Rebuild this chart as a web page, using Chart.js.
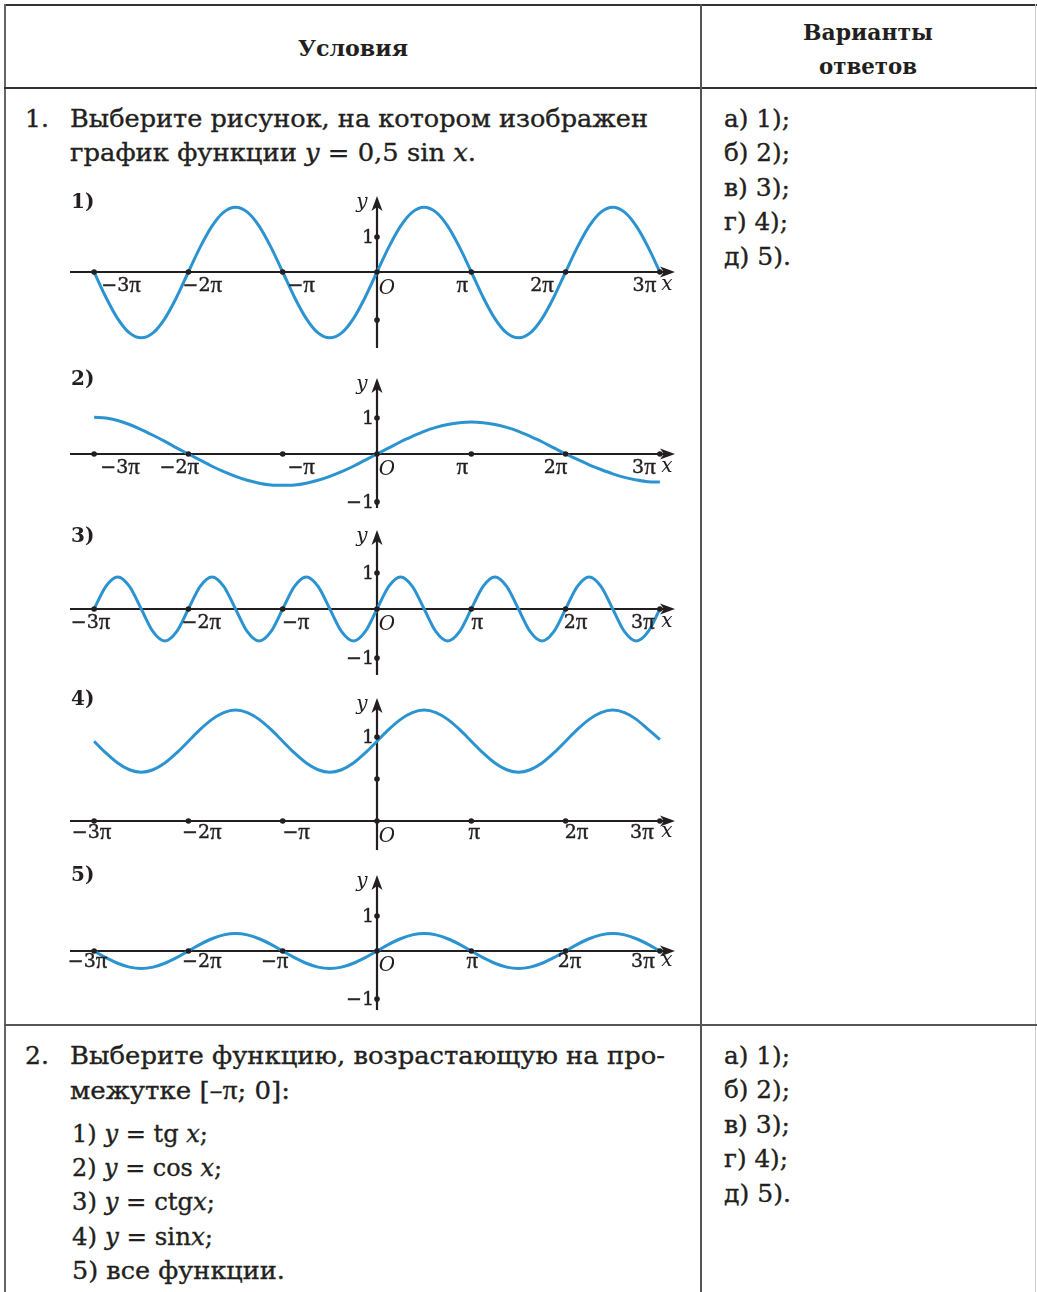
<!DOCTYPE html>
<html><head><meta charset="utf-8">
<script src="https://cdn.jsdelivr.net/npm/chart.js@4.4.1/dist/chart.umd.min.js"></script>
<style>
html,body{margin:0;padding:0;background:#fff;}
body{width:1037px;height:1292px;position:relative;overflow:hidden;font-family:"DejaVu Serif",serif;color:#231f20;}
.t{position:absolute;white-space:nowrap;font-size:25px;line-height:25px;transform-origin:0 0;-webkit-text-stroke:0.35px #231f20;}
.b{font-weight:bold;font-size:22px;line-height:22px;-webkit-text-stroke:0;}
i{font-style:italic;}
.pi{font-family:"Liberation Serif",serif;font-size:28px;}
.ln{position:absolute;}
canvas{position:absolute;left:60px;}
</style></head><body>
<div class="ln" style="left:4px;top:4px;width:1033px;height:2px;background:#333"></div>
<div class="ln" style="left:4px;top:4px;width:2px;height:1290px;background:#666"></div>
<div class="ln" style="left:1035px;top:4px;width:1px;height:1290px;background:#ccc"></div>
<div class="ln" style="left:4px;top:87px;width:1033px;height:2px;background:#333"></div>
<div class="ln" style="left:4px;top:1024px;width:1033px;height:2px;background:#555"></div>
<div class="ln" style="left:700px;top:4px;width:2px;height:1290px;background:#555"></div>

<div class="t b" data-cx="353" data-base="56" data-w="110">Условия</div>
<div class="t b" data-cx="868" data-base="40" data-w="130">Варианты</div>
<div class="t b" data-cx="868" data-base="74" data-w="98">ответов</div>

<div class="t" data-x="25" data-base="127">1.</div>
<div class="t" data-x="70" data-base="127" data-w="578">Выберите рисунок, на котором изображен</div>
<div class="t" data-x="70" data-base="161" data-w="406">график функции <i>y</i> = 0,5 sin <i>x</i>.</div>
<div class="t" data-x="724" data-base="127" data-w="66">а) 1);</div>
<div class="t" data-x="724" data-base="161" data-w="66">б) 2);</div>
<div class="t" data-x="724" data-base="196" data-w="66">в) 3);</div>
<div class="t" data-x="724" data-base="230" data-w="64">г) 4);</div>
<div class="t" data-x="724" data-base="265" data-w="67">д) 5).</div>

<div class="t" data-x="25" data-base="1064">2.</div>
<div class="t" data-x="70" data-base="1064" data-w="595">Выберите функцию, возрастающую на про-</div>
<div class="t" data-x="70" data-base="1098" data-w="220">межутке [–<span class="pi">π</span>; 0]:</div>
<div class="t" data-x="72" data-base="1142" data-w="136">1) <i>y</i> = tg <i>x</i>;</div>
<div class="t" data-x="72" data-base="1176" data-w="150">2) <i>y</i> = cos <i>x</i>;</div>
<div class="t" data-x="72" data-base="1210" data-w="143">3) <i>y</i> = ctg<i>x</i>;</div>
<div class="t" data-x="72" data-base="1245" data-w="141">4) <i>y</i> = sin<i>x</i>;</div>
<div class="t" data-x="72" data-base="1279" data-w="213">5) все функции.</div>
<div class="t" data-x="724" data-base="1064" data-w="66">а) 1);</div>
<div class="t" data-x="724" data-base="1098" data-w="66">б) 2);</div>
<div class="t" data-x="724" data-base="1133" data-w="66">в) 3);</div>
<div class="t" data-x="724" data-base="1167" data-w="64">г) 4);</div>
<div class="t" data-x="724" data-base="1202" data-w="67">д) 5).</div>

<canvas id="c1" width="630" height="175" style="top:185px"></canvas>
<canvas id="c2" width="630" height="150" style="top:365px"></canvas>
<canvas id="c3" width="630" height="165" style="top:520px"></canvas>
<canvas id="c4" width="630" height="175" style="top:685px"></canvas>
<canvas id="c5" width="630" height="155" style="top:865px"></canvas>

<script>
// ---- data (x in units of π) ----
const xTicks = [-3, -2, -1, 0, 1, 2, 3];
const xTickLabels = ['−3π', '−2π', '−π', '', 'π', '2π', '3π'];
const xs = [-3,-2.875,-2.75,-2.625,-2.5,-2.375,-2.25,-2.125,-2,-1.875,-1.75,-1.625,-1.5,-1.375,-1.25,-1.125,
 -1,-0.875,-0.75,-0.625,-0.5,-0.375,-0.25,-0.125,0,0.125,0.25,0.375,0.5,0.625,0.75,0.875,
 1,1.125,1.25,1.375,1.5,1.625,1.75,1.875,2,2.125,2.25,2.375,2.5,2.625,2.75,2.875,3];

const ys1 = [0,-0.72,-1.33,-1.74,-1.88,-1.74,-1.33,-0.72, 0,0.71,1.31,1.71,1.85,1.71,1.31,0.71,
 0,-0.72,-1.33,-1.74,-1.88,-1.74,-1.33,-0.72, 0,0.71,1.31,1.71,1.85,1.71,1.31,0.71,
 0,-0.72,-1.33,-1.74,-1.88,-1.74,-1.33,-0.72, 0,0.71,1.31,1.71,1.85,1.71,1.31,0.71, 0];
const ys2 = [1.02,1.00,0.93,0.82,0.68,0.52,0.35,0.17, 0,-0.17,-0.34,-0.49,-0.62,-0.73,-0.81,-0.86,
 -0.87,-0.86,-0.81,-0.73,-0.62,-0.49,-0.34,-0.17, 0,0.17,0.34,0.49,0.63,0.74,0.82,0.87,
 0.89,0.87,0.82,0.74,0.63,0.49,0.34,0.17, 0,-0.15,-0.30,-0.43,-0.55,-0.65,-0.72,-0.77, -0.78];
const ys3 = [0,0.63,0.89,0.63,0,-0.63,-0.89,-0.63, 0,0.63,0.89,0.63,0,-0.63,-0.89,-0.63,
 0,0.63,0.89,0.63,0,-0.63,-0.89,-0.63, 0,0.63,0.89,0.63,0,-0.63,-0.89,-0.63,
 0,0.63,0.89,0.63,0,-0.63,-0.89,-0.63, 0,0.63,0.89,0.63,0,-0.63,-0.89,-0.63, 0];
const ys4 = [0.95,0.81,0.69,0.61,0.58,0.61,0.69,0.81, 0.95,1.09,1.21,1.29,1.32,1.29,1.21,1.09,
 0.95,0.81,0.69,0.61,0.58,0.61,0.69,0.81, 0.95,1.09,1.21,1.29,1.32,1.29,1.21,1.09,
 0.95,0.81,0.69,0.61,0.58,0.61,0.69,0.81, 0.95,1.09,1.21,1.29,1.32,1.29,1.21,1.09, 0.97];
const ys5 = [0,-0.19,-0.35,-0.46,-0.5,-0.46,-0.35,-0.19, 0,0.19,0.35,0.46,0.5,0.46,0.35,0.19,
 0,-0.19,-0.35,-0.46,-0.5,-0.46,-0.35,-0.19, 0,0.19,0.35,0.46,0.5,0.46,0.35,0.19,
 0,-0.19,-0.35,-0.46,-0.5,-0.46,-0.35,-0.19, 0,0.19,0.35,0.46,0.5,0.46,0.35,0.19, 0];

const yTickVals1 = [1, -1.37], yTickLabels1 = ['1', ''];
const yTickVals2 = [1, -1.33], yTickLabels2 = ['1', '−1'];
const yTickVals3 = [1, -1.36], yTickLabels3 = ['1', '−1'];
const yTickVals4 = [1, 0.5],  yTickLabels4 = ['1', ''];
const yTickVals5 = [1, -1.37], yTickLabels5 = ['1', '−1'];
const chartNames = ['1)', '2)', '3)', '4)', '5)'];

// ---- layout ----
const LEFT = 60, W = 630, ZERO_X = 377, PX_PER_PI = 94.3;
const AX = '#231f20', CURVE = '#2b93d0';
const layouts = [
 {id:'c1', top:185, h:175, axisY:272, unit:35, tipY:196, botY:348, ys:ys1, yv:yTickVals1, yl:yTickLabels1, name:chartNames[0], nameY:203,
  dx:[27,14,18.5,0,-9,-23.5,-15.5], dy:14, ody:17},
 {id:'c2', top:365, h:150, axisY:454, unit:36, tipY:378, botY:508, ys:ys2, yv:yTickVals2, yl:yTickLabels2, name:chartNames[1], nameY:380,
  dx:[26,-9,18.5,0,-9,-10,-16], dy:14, ody:16},
 {id:'c3', top:520, h:165, axisY:609, unit:36, tipY:530, botY:675, ys:ys3, yv:yTickVals3, yl:yTickLabels3, name:chartNames[2], nameY:537,
  dx:[-3.5,13,13,0,6,10,-17], dy:14, ody:16},
 {id:'c4', top:685, h:175, axisY:821, unit:84, tipY:698, botY:850, ys:ys4, yv:yTickVals4, yl:yTickLabels4, name:chartNames[3], nameY:700,
  dx:[-2.5,13.5,13.5,0,3,11,-18], dy:12, ody:16},
 {id:'c5', top:865, h:155, axisY:951, unit:35, tipY:875, botY:1010, ys:ys5, yv:yTickVals5, yl:yTickLabels5, name:chartNames[4], nameY:876,
  dx:[-6.5,13.5,-8,0,1,4,-17], dy:11, ody:15}
];

const NUM_FONT = '19px "DejaVu Serif"', PI_FONT = '23px "Liberation Serif"';

function arrow(c, x, y, dir){
  c.beginPath();
  if (dir === 'right'){
    c.moveTo(x, y); c.lineTo(x-15, y-5.5); c.lineTo(x-11, y); c.lineTo(x-15, y+5.5);
  } else {
    c.moveTo(x, y); c.lineTo(x-5.5, y+15); c.lineTo(x, y+11); c.lineTo(x+5.5, y+15);
  }
  c.closePath(); c.fill();
}

// draws a label centered at (cx, cy), π rendered with a rounder serif glyph
function drawLabel(c, text, cx, cy){
  const parts = [];
  for (const ch of text) parts.push({ch: ch, font: ch === 'π' ? PI_FONT : NUM_FONT});
  let total = 0;
  parts.forEach(p => { c.font = p.font; p.w = c.measureText(p.ch).width; total += p.w; });
  let x = cx - total / 2;
  c.textAlign = 'left';
  parts.forEach(p => {
    c.font = p.font;
    c.fillText(p.ch, x, cy + (p.ch === 'π' ? 0 : 0));
    c.strokeText(p.ch, x, cy);
    x += p.w;
  });
}

function makePlugin(L){
  return {
    id: 'axes_' + L.id,
    beforeDatasetsDraw(chart){
      const c = chart.ctx, sx = chart.scales.x, sy = chart.scales.y;
      const ox = sx.getPixelForValue(0), oy = sy.getPixelForValue(0);
      c.save();
      c.strokeStyle = AX; c.fillStyle = AX; c.lineWidth = 2.2;
      c.beginPath(); c.moveTo(70 - LEFT, oy); c.lineTo(675 - LEFT - 10, oy); c.stroke();
      arrow(c, 675 - LEFT, oy, 'right');
      c.beginPath(); c.moveTo(ox, L.botY - L.top); c.lineTo(ox, L.tipY - L.top + 10); c.stroke();
      arrow(c, ox, L.tipY - L.top, 'up');
      c.restore();
    },
    afterDatasetsDraw(chart){
      const c = chart.ctx, sx = chart.scales.x, sy = chart.scales.y;
      const ox = sx.getPixelForValue(0), oy = sy.getPixelForValue(0);
      c.save();
      c.fillStyle = AX; c.strokeStyle = AX; c.lineWidth = 0.4;
      xTicks.forEach(v => { c.beginPath(); c.arc(sx.getPixelForValue(v), oy, 2.8, 0, Math.PI*2); c.fill(); });
      L.yv.forEach(v => { c.beginPath(); c.arc(ox, sy.getPixelForValue(v), 2.8, 0, Math.PI*2); c.fill(); });
      c.textBaseline = 'middle';
      xTicks.forEach((v, i) => {
        if (!xTickLabels[i]) return;
        drawLabel(c, xTickLabels[i], sx.getPixelForValue(v) + L.dx[i], oy + L.dy);
      });
      c.font = NUM_FONT;
      c.textAlign = 'right';
      L.yv.forEach((v, i) => { if (L.yl[i]) { const py = sy.getPixelForValue(v) + 1; c.fillText(L.yl[i], ox - 3, py); c.strokeText(L.yl[i], ox - 3, py); } });
      c.font = 'italic 20px "DejaVu Serif"';
      c.textAlign = 'center';
      c.fillText('O', ox + 10, oy + L.ody);
      c.fillText('x', 667 - LEFT, oy + L.dy - 1);
      c.fillText('y', ox - 15, L.tipY - L.top + 7);
      c.font = 'bold 20px "DejaVu Serif"';
      c.textAlign = 'left';
      c.fillText(L.name, 71 - LEFT, L.nameY - L.top);
      c.restore();
    }
  };
}

layouts.forEach(L => {
  const xmin = (LEFT - ZERO_X) / PX_PER_PI, xmax = (LEFT + W - ZERO_X) / PX_PER_PI;
  const ymax = (L.axisY - L.top) / L.unit, ymin = -(L.top + L.h - L.axisY) / L.unit;
  new Chart(document.getElementById(L.id), {
    type: 'line',
    data: { datasets: [{
      data: xs.map((x, i) => ({x: x, y: L.ys[i]})),
      borderColor: CURVE, borderWidth: 3, pointRadius: 0, fill: false,
      cubicInterpolationMode: 'monotone', clip: false
    }]},
    options: {
      responsive: false, animation: false, events: [],
      layout: { padding: 0 },
      plugins: { legend: {display: false}, tooltip: {enabled: false}, title: {display: false} },
      scales: {
        x: { type: 'linear', min: xmin, max: xmax, display: false },
        y: { type: 'linear', min: ymin, max: ymax, display: false }
      }
    },
    plugins: [makePlugin(L)]
  });
});

// ---- text placement ----
document.querySelectorAll('.t').forEach(el => {
  const fs = parseFloat(getComputedStyle(el).fontSize);
  const base = parseFloat(el.dataset.base);
  el.style.top = (base - 0.846 * fs) + 'px';
  const nat = el.getBoundingClientRect().width;
  let w = nat;
  if (el.dataset.w) { w = parseFloat(el.dataset.w); el.style.transform = 'scaleX(' + (w / nat) + ')'; }
  if (el.dataset.cx) el.style.left = (parseFloat(el.dataset.cx) - w / 2) + 'px';
  else el.style.left = el.dataset.x + 'px';
});
</script>
</body></html>
